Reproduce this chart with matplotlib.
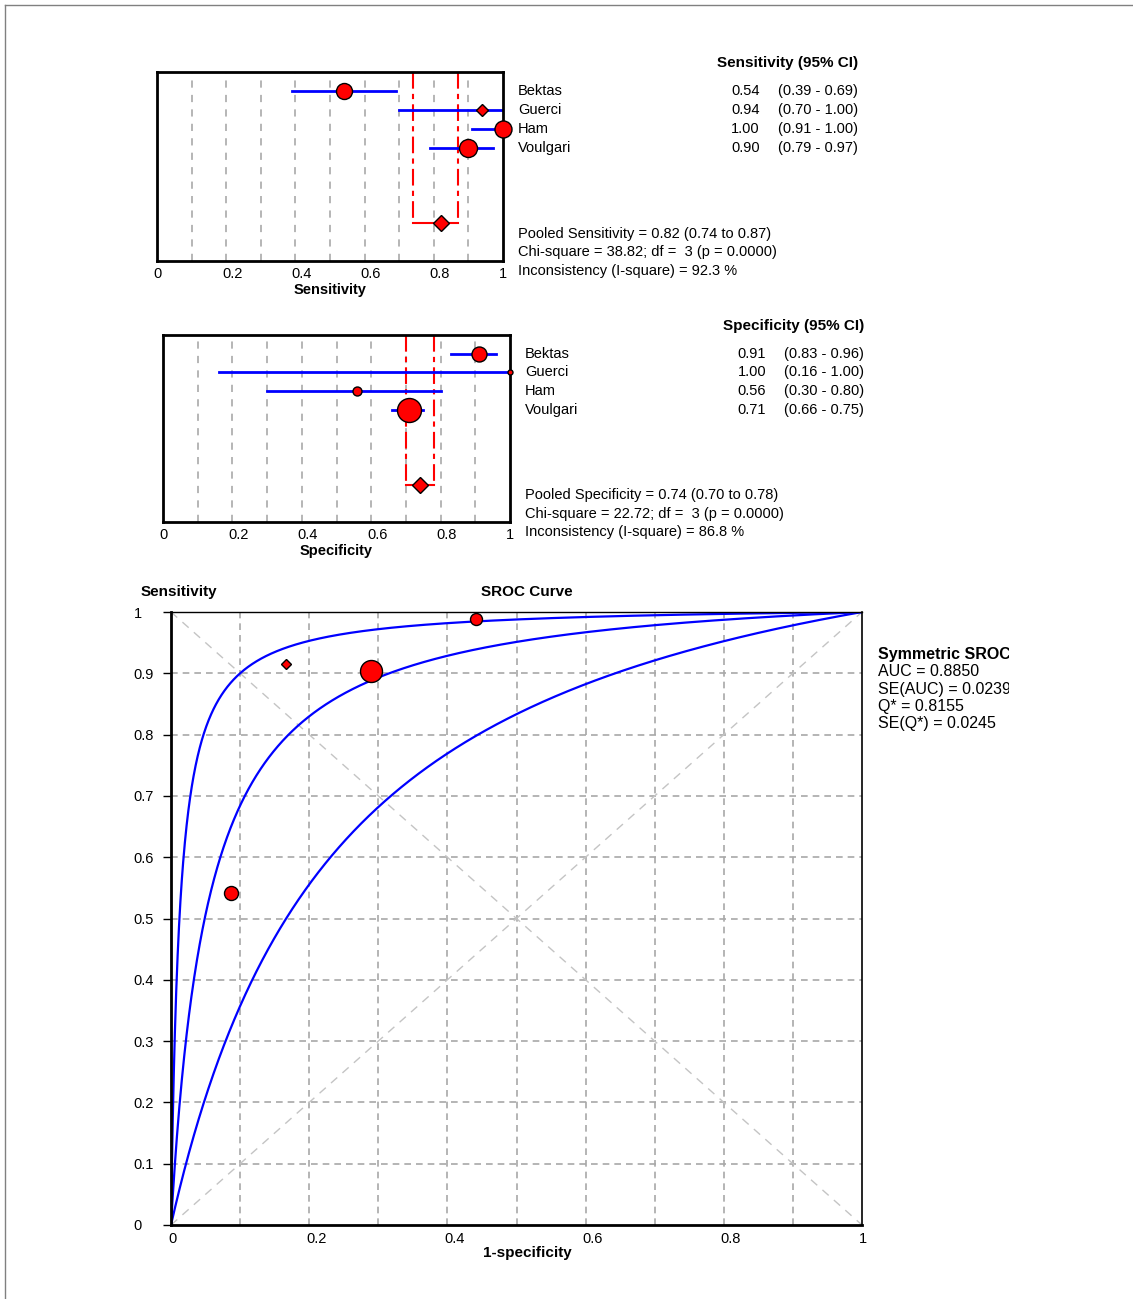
import matplotlib
matplotlib.use('Agg')
import matplotlib.pyplot as plt
import numpy as np
from matplotlib.transforms import blended_transform_factory, ScaledTranslation
from matplotlib.lines import Line2D
from matplotlib.patches import Rectangle

plt.rcParams['font.family'] = ['Liberation Sans', 'DejaVu Sans']

# ---- data ----
studies = ['Bektas', 'Guerci', 'Ham', 'Voulgari']
sens = [0.54, 0.94, 1.00, 0.90]
sens_lo = [0.39, 0.70, 0.91, 0.79]
sens_hi = [0.69, 1.00, 1.00, 0.97]
spec = [0.91, 1.00, 0.56, 0.71]
spec_lo = [0.83, 0.16, 0.30, 0.66]
spec_hi = [0.96, 1.00, 0.80, 0.75]
pooled_sens = (0.82, 0.74, 0.87)
pooled_spec = (0.74, 0.70, 0.78)
sens_stats = ['Pooled Sensitivity = 0.82 (0.74 to 0.87)',
              'Chi-square = 38.82; df =  3 (p = 0.0000)',
              'Inconsistency (I-square) = 92.3 %']
spec_stats = ['Pooled Specificity = 0.74 (0.70 to 0.78)',
              'Chi-square = 22.72; df =  3 (p = 0.0000)',
              'Inconsistency (I-square) = 86.8 %']

# study weights (marker diameter, px)
sens_weight = [16, 11, 17, 18]
spec_weight = [15, 5, 9, 24]
sroc_weight = [14, 9, 12, 22]

# SROC points as plotted (1-specificity, sensitivity), continuity corrected
sroc_fpr = [0.087, 0.166, 0.441, 0.289]
sroc_tpr = [0.542, 0.915, 0.988, 0.904]
# symmetric SROC: diagnostic odds ratio and its 95% CI
dor = 19.5
dor_lo = 5.0
dor_hi = 81.0
sroc_stats = ['AUC = 0.8850', 'SE(AUC) = 0.0239', 'Q* = 0.8155', 'SE(Q*) = 0.0245']

W, H = 1133, 1299
fig = plt.figure(figsize=(W / 100, H / 100), dpi=100)


def rect(l, t, r, b):
    return [l / W, 1 - b / H, (r - l) / W, (b - t) / H]


def shift_xlabels(ax, px):
    off = ScaledTranslation(px / 100, 0, fig.dpi_scale_trans)
    for lbl in ax.get_xticklabels():
        lbl.set_horizontalalignment('left')
        lbl.set_transform(lbl.get_transform() + off)


def forest(ax, est, lo, hi, pooled, weight, header, stats, xlabel,
           name_x, val_x, ci_x, diamonds=()):
    ax.set_xlim(0, 1)
    ax.set_ylim(10, 0)
    for g in np.arange(1, 10) / 10:
        ax.axvline(g, color='#b0b0b0', lw=1.3, ls=(0, (4, 4)), zorder=0)
    p, plo, phi = pooled
    for xv in (plo, phi):
        ax.plot([xv, xv], [0, 8], color='red', lw=1.5, ls=(0, (8, 2.5, 2.5, 2.5)), zorder=1)
    ax.plot([plo, phi], [8, 8], color='red', lw=1.5, zorder=1)
    ax.plot(p, 8, 'D', ms=8, mfc='red', mec='black', mew=1, zorder=4)
    tr = blended_transform_factory(ax.transAxes, ax.transData)
    for i, name in enumerate(studies):
        r = i + 1
        ax.plot([lo[i], hi[i]], [r, r], color='blue', lw=2, zorder=2)
        mk = 'D' if i in diamonds else 'o'
        ms = weight[i] * 0.72 * (0.75 if mk == 'D' else 1)
        ax.plot(est[i], r, mk, ms=ms, mfc='red', mec='black', mew=1,
                clip_on=False, zorder=3)
        ax.text(name_x, r, name, transform=tr, ha='left', va='center', fontsize=10.5)
        ax.text(val_x, r, '%.2f' % est[i], transform=tr, ha='right', va='center', fontsize=10.5)
        ax.text(ci_x, r, '(%.2f - %.2f)' % (lo[i], hi[i]), transform=tr,
                ha='right', va='center', fontsize=10.5)
    ax.text(ci_x, -0.5, header, transform=tr, ha='right', va='center',
            fontsize=11, fontweight='bold')
    for k, s in enumerate(stats):
        ax.text(name_x, 8.55 + k, s, transform=tr, ha='left', va='center', fontsize=10.5)
    ax.set_xticks([0, 0.2, 0.4, 0.6, 0.8, 1])
    ax.set_xticklabels(['0', '0.2', '0.4', '0.6', '0.8', '1'])
    ax.set_yticks([])
    ax.tick_params(axis='x', length=0, pad=4, labelsize=10.5)
    shift_xlabels(ax, -4)
    for sp in ax.spines.values():
        sp.set_linewidth(2)
    ax.set_xlabel(xlabel, fontsize=10.5, fontweight='bold', labelpad=2)


ax1 = fig.add_axes(rect(157, 72, 503, 261))
forest(ax1, sens, sens_lo, sens_hi, pooled_sens, sens_weight,
       'Sensitivity (95% CI)', sens_stats, 'Sensitivity',
       (518 - 157) / 346, (760 - 157) / 346, (858 - 157) / 346, diamonds=(1,))

ax2 = fig.add_axes(rect(163, 335, 510, 522))
forest(ax2, spec, spec_lo, spec_hi, pooled_spec, spec_weight,
       'Specificity (95% CI)', spec_stats, 'Specificity',
       (525 - 163) / 347, (766 - 163) / 347, (864 - 163) / 347)

# ---- SROC ----
ax3 = fig.add_axes(rect(171, 612, 862, 1225))
ax3.set_xlim(0, 1)
ax3.set_ylim(0, 1)
for g in np.arange(1, 10) / 10:
    ax3.axvline(g, color='#a8a8a8', lw=1.2, ls=(0, (4, 3)), zorder=0)
    ax3.axhline(g, color='#a8a8a8', lw=1.2, ls=(0, (4, 3)), zorder=0)
ax3.plot([0, 1], [0, 1], color='#c4c4c4', lw=1, ls=(0, (6, 5)), zorder=0)
ax3.plot([0, 1], [1, 0], color='#c4c4c4', lw=1, ls=(0, (6, 5)), zorder=0)

fpr = np.linspace(0.0001, 0.9999, 2000)
for d in (dor, dor_lo, dor_hi):
    lg = np.log(fpr / (1 - fpr)) + np.log(d)
    tpr = 1 / (1 + np.exp(-lg))
    ax3.plot(np.r_[0, fpr, 1], np.r_[0, tpr, 1], color='blue', lw=1.6, zorder=2)

for i in range(len(studies)):
    mk = 'D' if i == 1 else 'o'
    ms = sroc_weight[i] * 0.72 * (0.75 if mk == 'D' else 1)
    ax3.plot(sroc_fpr[i], sroc_tpr[i], mk, ms=ms, mfc='red', mec='black', mew=1,
             zorder=3, clip_on=False)

ax3.set_xticks([0, 0.2, 0.4, 0.6, 0.8, 1])
ax3.set_xticklabels(['0', '0.2', '0.4', '0.6', '0.8', '1'])
ax3.set_yticks(np.arange(0, 11) / 10)
ax3.set_yticklabels(['0', '0.1', '0.2', '0.3', '0.4', '0.5', '0.6', '0.7', '0.8', '0.9', '1'])
ax3.tick_params(axis='x', length=0, pad=5, labelsize=10.5)
ax3.tick_params(axis='y', length=6, width=1, pad=21, labelsize=10.5)
shift_xlabels(ax3, -3)
for lbl in ax3.get_yticklabels():
    lbl.set_horizontalalignment('left')
ax3.spines['left'].set_linewidth(2)
ax3.spines['bottom'].set_linewidth(2)
ax3.spines['top'].set_linewidth(1)
ax3.spines['right'].set_linewidth(1.2)

fig.text(141 / W, 1 - 592 / H, 'Sensitivity', ha='left', va='center',
         fontsize=11, fontweight='bold')
fig.text(527 / W, 1 - 592 / H, 'SROC Curve', ha='center', va='center',
         fontsize=11, fontweight='bold')
fig.text(527 / W, 1 - 1253 / H, '1-specificity', ha='center', va='center',
         fontsize=11, fontweight='bold')

fig.text(878 / W, 1 - 655 / H, 'Symmetric SROC', ha='left', va='center',
         fontsize=11.5, fontweight='bold')
for k, s in enumerate(sroc_stats):
    fig.text(878 / W, 1 - (672 + 17.3 * k) / H, s, ha='left', va='center', fontsize=11.5)
# the legend box in the original cuts its text at the right edge
fig.add_artist(Rectangle((1009 / W, 1 - 740 / H), 120 / W, 100 / H, facecolor='white',
                         edgecolor='none', transform=fig.transFigure, zorder=10))

# page frame
fig.add_artist(Line2D([5 / W, 5 / W], [0, 1 - 5 / H], color='#808080', lw=1,
                      transform=fig.transFigure))
fig.add_artist(Line2D([5 / W, 1], [1 - 5 / H, 1 - 5 / H], color='#808080', lw=1,
                      transform=fig.transFigure))

fig.savefig('out.png', dpi=100)
